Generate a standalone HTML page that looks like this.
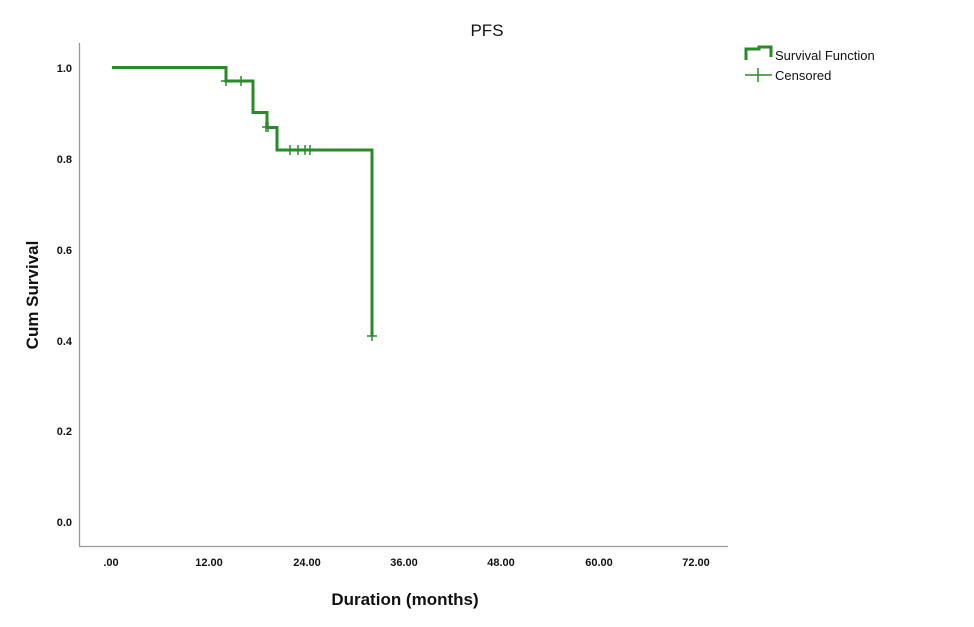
<!DOCTYPE html>
<html><head><style>
body{margin:0;background:#fff;}
svg{display:block;font-family:"Liberation Sans",Arial,sans-serif;}
.t{font-weight:bold;font-size:11px;fill:#111;font-stretch:condensed}
</style></head><body>
<svg width="974" height="627" viewBox="0 0 974 627">
<rect width="974" height="627" fill="#fff"/>
<text x="487" y="36" text-anchor="middle" font-size="17" fill="#111">PFS</text>
<line x1="79.5" y1="43" x2="79.5" y2="546" stroke="#999" stroke-width="1.3"/>
<line x1="79" y1="546.5" x2="728" y2="546.5" stroke="#999" stroke-width="1.3"/>
<g class="t" text-anchor="end">
<text x="72" y="72" class="t">1.0</text>
<text x="72" y="163" class="t">0.8</text>
<text x="72" y="254" class="t">0.6</text>
<text x="72" y="345" class="t">0.4</text>
<text x="72" y="435" class="t">0.2</text>
<text x="72" y="526" class="t">0.0</text>
</g>
<g text-anchor="middle">
<text x="111" y="566" class="t">.00</text>
<text x="209" y="566" class="t">12.00</text>
<text x="307" y="566" class="t">24.00</text>
<text x="404" y="566" class="t">36.00</text>
<text x="501" y="566" class="t">48.00</text>
<text x="599" y="566" class="t">60.00</text>
<text x="696" y="566" class="t">72.00</text>
</g>
<text x="405" y="605" text-anchor="middle" font-size="17" font-weight="bold" fill="#111">Duration (months)</text>
<text transform="translate(38,295) rotate(-90)" text-anchor="middle" font-size="17" font-weight="bold" fill="#111">Cum Survival</text>
<path d="M112 67.5 H226 V81 H253 V112.5 H267 V127.5 H277 V150 H372 V336" fill="none" stroke="#2a8a2a" stroke-width="3"/>
<g stroke="#2a8a2a" stroke-width="1.5">
<path d="M226 76v10M221 81h10M241 76v10M266 122v10M262 127h10M268 122v10M290 145v10M298 145v10M305 145v10M310 145v10M372 331v10M367 336h10"/>
</g>
<path d="M746 60 V49 H759 V47 H771 V57" fill="none" stroke="#2a8a2a" stroke-width="3"/>
<text x="775" y="60" font-size="13" fill="#111">Survival Function</text>
<path d="M745 75h27M758 68v14" stroke="#2a8a2a" stroke-width="1.5"/>
<text x="775" y="80" font-size="13" fill="#111">Censored</text>
</svg>
</body></html>
